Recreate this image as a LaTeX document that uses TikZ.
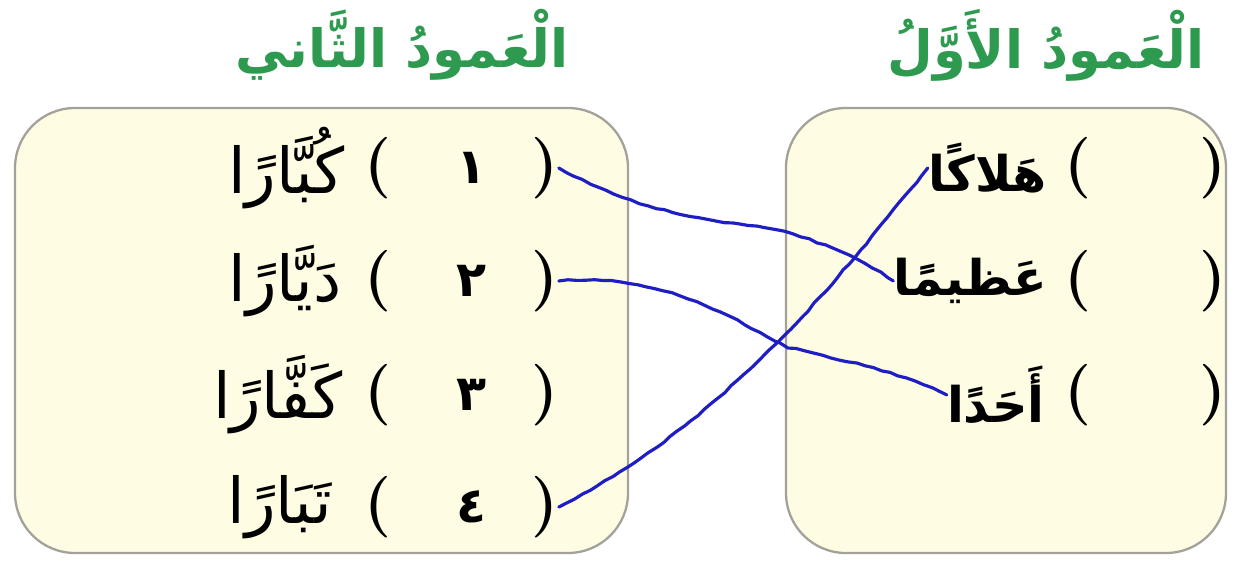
\documentclass[tikz,border=0pt]{standalone}
\usepackage{fontspec}
\usetikzlibrary{decorations.pathmorphing}
\newfontfamily\arabicfont[Script=Arabic]{DejaVu Sans}
\TeXXeTstate=1
\definecolor{panelfill}{HTML}{FEFCE2}
\definecolor{boxgray}{HTML}{A3A19A}
\definecolor{ttlgreen}{HTML}{2E9A50}
\definecolor{linkblue}{HTML}{1E1EC4}
\tikzset{
  panel/.style={draw=boxgray, fill=panelfill, line width=1.3pt, rounded corners=1.2cm},
  ttl/.style={text=ttlgreen, font=\arabicfont\bfseries\fontsize{30}{35}\selectfont, inner sep=0pt},
  wordL/.style={anchor=east, font=\arabicfont\fontsize{36}{40}\selectfont, inner sep=0pt},
  wordR/.style={anchor=east, font=\arabicfont\bfseries\fontsize{28}{32}\selectfont, inner sep=0pt},
  paren/.style={font=\bfseries\fontsize{35}{38}\selectfont, inner sep=0pt},
  num/.style={font=\arabicfont\bfseries\fontsize{28}{30}\selectfont, inner sep=0pt},
  link/.style={draw=linkblue, line width=1.8pt, line cap=round, line join=round,
    decorate, decoration={random steps, segment length=5pt, amplitude=0.45pt}}
}
\begin{document}
\begin{tikzpicture}[x=0.02cm,y=-0.02cm]
\useasboundingbox (0,0) rectangle (1234,568);
% panels
\draw[panel] (15,108) rectangle (628,553);
\draw[panel] (786,108) rectangle (1226,553);
% titles
\node[ttl] (t2) at (402,45) {\beginR الْعَمودُ الثَّاني\endR};
\node[ttl] (t1) at (1046,45) {\beginR الْعَمودُ الأَوَّلُ\endR};
% left column rows
\foreach \i/\y/\d in {1/168/١,2/281/٢,3/395/٣,4/507/٤}{
  \node[paren] (pL\i) at (545,\y) {)};
  \node[num] (nL\i) at (472,\y) {\beginR\d\endR};
  \node[paren] (qL\i) at (378,\y) {(};
}
\node[wordL] (wL1) at (345,168) {\beginR كُبَّارًا\endR};
\node[wordL] (wL2) at (342,281) {\beginR دَيَّارًا\endR};
\node[wordL] (wL3) at (343,395) {\beginR كَفَّارًا\endR};
\node[wordL] (wL4) at (332,507) {\beginR تَبَارًا\endR};
% right column rows
\foreach \i/\y in {1/168,2/281,3/395}{
  \node[paren] (pR\i) at (1213,\y) {)};
  \node[paren] (qR\i) at (1078,\y) {(};
}
\node[wordR] (wR1) at (1047,168) {\beginR هَلاكًا\endR};
\node[wordR] (wR2) at (1047,281) {\beginR عَظيمًا\endR};
\node[wordR] (wR3) at (1045,395) {\beginR أَحَدًا\endR};
% links
\draw[link] (pL1.east) .. controls (600,190) and (650,213) .. (740,224)
   .. controls (800,230) and (860,258) .. (wR2.west);
\draw[link] (pL2.east) .. controls (650,275) and (700,300) .. (780,343)
   .. controls (805,356) and (880,362) .. (wR3.west);
\draw[link] (pL4.east) .. controls (620,475) and (690,430) .. (778,342)
   .. controls (830,290) and (890,215) .. (wR1.west);
\end{tikzpicture}
\end{document}
